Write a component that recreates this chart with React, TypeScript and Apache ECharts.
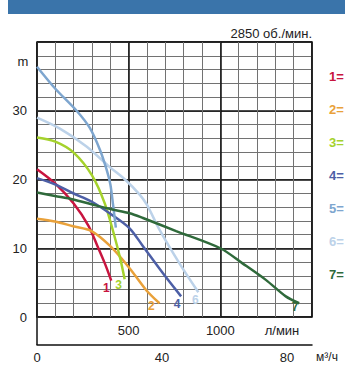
import React, { useEffect, useRef } from "react";
import * as echarts from "echarts";

// Flow (l/min) vs head (m) for each pump curve
const curve1: number[][] = [[0, 21.5], [100, 19.4], [200, 16.5], [280, 13.3], [330, 10.3], [370, 7.8], [405, 5.3]];
const curve2: number[][] = [[0, 14.3], [98, 13.9], [197, 13.2], [297, 12.5], [400, 10.3], [505, 7.1], [596, 3.9], [668, 2]];
const curve3: number[][] = [[0, 26.1], [100, 25.5], [200, 23.9], [300, 20.6], [370, 16.5], [420, 12], [455, 8.4], [478, 5.5]];
const curve4: number[][] = [[0, 20.2], [98, 19.3], [197, 18.0], [297, 16.8], [406, 14.9], [505, 12.9], [578, 10.3], [686, 6.4], [786, 3]];
const curve5: number[][] = [[0, 36.4], [100, 33.2], [216, 30], [288, 27.5], [342, 24.4], [379, 21.5], [400, 19.3], [415, 16.3], [430, 13]];
const curve6: number[][] = [[0, 29], [125, 27.4], [270, 24.8], [397, 21.8], [480, 20], [560, 17.8], [600, 16.3], [668, 12.7], [777, 7.8], [880, 3.6]];
const curve7: number[][] = [[0, 18.1], [98, 17.6], [197, 17.1], [297, 16.4], [400, 15.7], [505, 15.1], [578, 14.4], [759, 12.5], [1000, 10], [1121, 7.8], [1248, 5.4], [1357, 3.0], [1430, 2]];

const curveNames = ["1", "2", "3", "4", "5", "6", "7"];
const curveColors = ["#c8153f", "#e9a13a", "#a5d22c", "#4d5fa6", "#7ea6cf", "#bcd2e9", "#2f6a3b"];
const curveData = [curve1, curve2, curve3, curve4, curve5, curve6, curve7];
// end-label offsets (px) relative to each curve's last point; null = no label
const labelOffsets: (number[] | null)[] = [[-5, 7], [-8, 3], [-6, 6], [-4, 8], null, [-3, 8], [-4, 4]];

const flowTicksLabelled = [500, 1000];
const headTicksLabelled = [0, 10, 20, 30];
const m3hTicks = [0, 40, 80];

const FONT = "'Liberation Sans', Arial, sans-serif";

export default function App() {
  const ref = useRef<HTMLDivElement>(null);
  useEffect(() => {
    if (!ref.current) return;
    const chart = echarts.init(ref.current, null, { renderer: "svg" });
    const series: any[] = curveData.map((d, i) => {
      const last = d[d.length - 1];
      const off = labelOffsets[i];
      return {
        type: "line",
        name: curveNames[i],
        data: d,
        xAxisIndex: 0,
        yAxisIndex: 0,
        smooth: 0.3,
        showSymbol: false,
        lineStyle: { color: curveColors[i], width: 2.5 },
        z: 10 + (i === 5 ? 0 : 1),
        markPoint: off
          ? {
              symbol: "circle",
              symbolSize: 2,
              itemStyle: { color: "rgba(0,0,0,0)" },
              data: [
                {
                  coord: last,
                  label: {
                    show: true,
                    position: "inside",
                    formatter: curveNames[i],
                    offset: off,
                    color: curveColors[i],
                    fontSize: 12,
                    fontWeight: "bold",
                    fontFamily: FONT,
                  },
                },
              ],
            }
          : undefined,
      };
    });

    const legendTexts = curveNames.map((n, i) => ({
      type: "text",
      left: 329,
      top: 70 + i * 33,
      style: {
        text: n + "=",
        fill: curveColors[i],
        font: `bold 13px ${FONT}`,
      },
    }));

    chart.setOption({
      animation: false,
      grid: {
        left: 37,
        top: 42,
        width: 275,
        height: 275,
        show: true,
        borderColor: "#111",
        borderWidth: 1.5,
        backgroundColor: "transparent",
      },
      xAxis: [
        {
          type: "value",
          min: 0,
          max: 1500,
          interval: 100,
          position: "bottom",
          axisLine: { show: false },
          axisTick: { show: false },
          axisLabel: {
            margin: 7,
            color: "#222",
            fontSize: 13,
            fontFamily: FONT,
            formatter: (v: number) => (flowTicksLabelled.includes(v) ? String(v) : ""),
          },
          splitLine: { show: true, lineStyle: { color: "#727272", width: 1 } },
        },
        {
          type: "value",
          min: 0,
          max: 1500,
          interval: 500,
          position: "top",
          axisLine: { show: false },
          axisTick: { show: false },
          axisLabel: { show: false },
          splitLine: { show: true, lineStyle: { color: "#111", width: 1.5 } },
        },
        {
          type: "value",
          min: 0,
          max: 88,
          interval: 40,
          position: "bottom",
          offset: 28,
          axisLine: { show: true, lineStyle: { color: "#111", width: 1.5 } },
          axisTick: { show: false },
          axisLabel: {
            margin: 6,
            color: "#222",
            fontSize: 13,
            fontFamily: FONT,
            showMaxLabel: false,
            formatter: (v: number) => (m3hTicks.includes(v) ? String(v) : ""),
          },
          splitLine: { show: false },
        },
      ],
      yAxis: [
        {
          type: "value",
          min: 0,
          max: 40,
          interval: 2,
          position: "left",
          axisLine: { show: false },
          axisTick: { show: false },
          axisLabel: {
            margin: 10,
            color: "#222",
            fontSize: 13,
            fontFamily: FONT,
            formatter: (v: number) => (headTicksLabelled.includes(v) ? String(v) : ""),
          },
          splitLine: { show: true, lineStyle: { color: "#727272", width: 1 } },
        },
        {
          type: "value",
          min: 0,
          max: 40,
          interval: 10,
          position: "right",
          axisLine: { show: false },
          axisTick: { show: false },
          axisLabel: { show: false },
          splitLine: { show: true, lineStyle: { color: "#111", width: 1.5 } },
        },
      ],
      graphic: [
        { type: "rect", shape: { x: 8, y: 0, width: 337, height: 14 }, style: { fill: "#3a74aa" } },
        {
          type: "text",
          x: 312,
          y: 33,
          style: { text: "2850 об./мин.", fill: "#222", font: `13px ${FONT}`, align: "right", verticalAlign: "middle" },
        },
        {
          type: "text",
          x: 23,
          y: 61,
          style: { text: "m", fill: "#222", font: `13px ${FONT}`, align: "center", verticalAlign: "middle" },
        },
        {
          type: "line",
          shape: { x1: 37, y1: 317, x2: 37, y2: 345 },
          style: { stroke: "#111", lineWidth: 1.5 },
        },
        {
          type: "text",
          x: 282,
          y: 330,
          style: { text: "л/мин", fill: "#222", font: `13px ${FONT}`, align: "center", verticalAlign: "middle" },
        },
        {
          type: "text",
          x: 327,
          y: 357,
          style: { text: "м³/ч", fill: "#222", font: `12px ${FONT}`, align: "center", verticalAlign: "middle" },
        },
        ...legendTexts,
      ],
      series,
    });
    return () => chart.dispose();
  }, []);
  return <div ref={ref} style={{ position: "absolute", left: 0, top: 0, width: 345, height: 367 }} />;
}
